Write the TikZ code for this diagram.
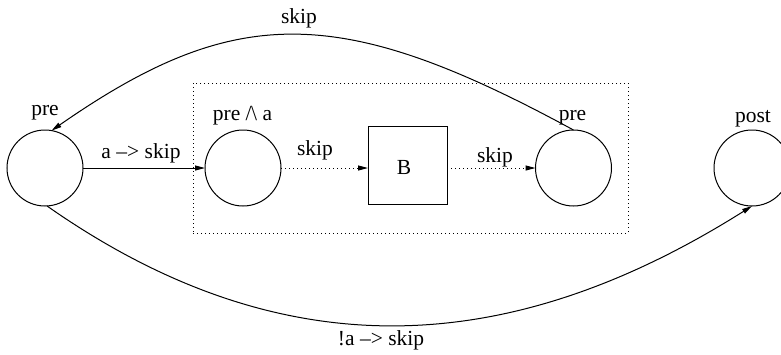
\documentclass[tikz,border=0pt]{standalone}
\usepackage{fontspec}
\setmainfont{Liberation Serif}
\usetikzlibrary{arrows.meta}
\begin{document}
\begin{tikzpicture}[x=1pt,y=-1pt,
  every node/.style={font=\fontsize{21.5}{24}\selectfont},
  state/.style={draw,circle,minimum size=76pt,inner sep=0pt,outer sep=0pt,line width=1pt},
  blk/.style={draw,rectangle,minimum width=79pt,minimum height=78pt,inner sep=0pt,outer sep=0pt,line width=1pt},
  frame/.style={draw,rectangle,line width=1pt,dash pattern=on 1pt off 3pt,minimum width=435pt,minimum height=150pt,inner sep=0pt,outer sep=0pt},
  lbl/.style={anchor=base,inner sep=0pt},
  conn/.style={line width=1pt,-{Triangle[length=10pt,width=5pt]}},
  dconn/.style={conn,dash pattern=on 1pt off 3pt}]
\useasboundingbox (0,0) rectangle (781,354);
\node[frame] (grp) at (410.5,158) {};
\node[state] (c1) at (45,168) {};
\node[state] (c2) at (243,168) {};
\node[blk] (b) at (407.5,165) {};
\node[lbl] (bl) at (404,174) {B};
\node[state] (c3) at (573.5,168) {};
\node[state] (c4) at (752,168) {};
% labels
\node[lbl] (l1) at (45,115) {pre};
\node[lbl] (l2) at (242.5,120) {pre /\kern-0.5pt\textbackslash{} a};
\node[lbl] (l3) at (572.5,120) {pre};
\node[lbl] (l4) at (753,122) {post};
\node[lbl] (e1) at (141,158) {a --> skip};
\node[lbl] (e2) at (315,155) {skip};
\node[lbl] (e3) at (495,162) {skip};
\node[lbl] (e4) at (299,23) {skip};
\node[lbl] (e5) at (381,345) {!a --> skip};
% connectors
\draw[conn] (c1.east) -- (c2.west);
\draw[dconn] (c2.east) -- (c2.east -| b.west);
\draw[dconn] (c3.west -| b.east) -- (c3.west);
\draw[conn] (c3.north) .. controls (340,3) and (235,3) .. (c1.80);
\draw[conn] (c1.-87) .. controls (274,365) and (500,365) .. (c4.south);
\end{tikzpicture}
\end{document}
